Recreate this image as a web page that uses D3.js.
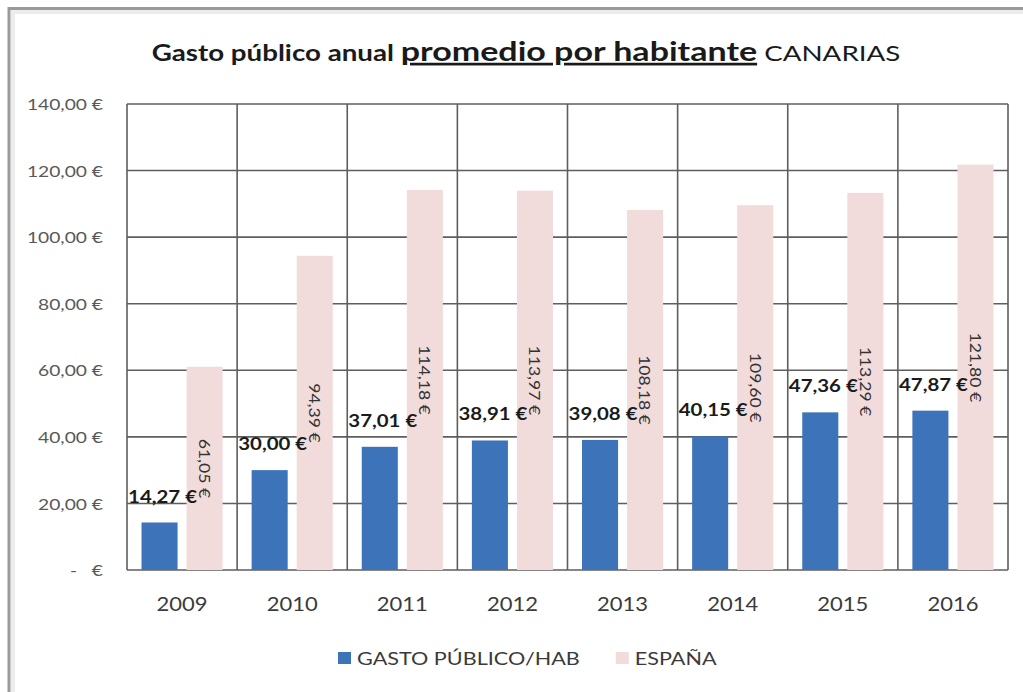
<!DOCTYPE html>
<html><head><meta charset="utf-8">
<script src="https://cdn.jsdelivr.net/npm/d3@7"></script>
<style>
html,body{margin:0;padding:0;background:#fff;}
svg{display:block;}
text{font-family:Lato, "Open Sans", sans-serif;}
</style></head>
<body><svg id="chart" width="1023" height="692"></svg>
<script>
// ---- data ----
const years = ["2009","2010","2011","2012","2013","2014","2015","2016"];
const gastoHab = [14.27,30.00,37.01,38.91,39.08,40.15,47.36,47.87];
const espana = [61.05,94.39,114.18,113.97,108.18,109.60,113.29,121.80];
const yTicks = [0,20,40,60,80,100,120,140];
const seriesNames = ["GASTO PÚBLICO/HAB","ESPAÑA"];
const titleParts = ["Gasto público anual ","promedio por habitante"," CANARIAS"];

// ---- layout ----
const W=1023,H=692;
const plot={left:127,right:1008,top:104,bottom:570};
const blue="#3c73b9", pink="#f2dcdb", grid="#5e5e5e", textCol="#3a3a3a";
const SX=1.2; // horizontal text stretch seen in the reference

const svg=d3.select("#chart");
svg.append("rect").attr("width",W).attr("height",H).attr("fill","#fff");

// outer frame (screenshot border)
svg.append("path").attr("d",`M13,${H+5}V12H${W+5}`).attr("fill","none").attr("stroke","#ececec").attr("stroke-width",4);
svg.append("path").attr("d",`M9,${H+5}V8.5H${W+5}`).attr("fill","none").attr("stroke","#9a9a9a").attr("stroke-width",3);

const loc=d3.formatLocale({decimal:",",thousands:".",grouping:[3],currency:[""," €"]});
const fmt=v=>loc.format(",.2f")(v)+" €";

const x=d3.scaleBand().domain(years).range([plot.left,plot.right]).paddingInner(0).paddingOuter(0);
const xs=d3.scaleBand().domain([0,1]).range([0,x.bandwidth()]).paddingInner(0.2).paddingOuter(0.322);
const y=d3.scaleLinear().domain([0,140]).range([plot.bottom,plot.top]);

// gridlines
const g=svg.append("g");
g.selectAll("line.h").data(yTicks).join("line")
  .attr("x1",plot.left).attr("x2",plot.right)
  .attr("y1",d=>y(d)).attr("y2",d=>y(d))
  .attr("stroke",grid).attr("stroke-width",1.6);
const vlines=years.map(d=>x(d)).concat([plot.right]);
g.selectAll("line.v").data(vlines).join("line")
  .attr("x1",d=>d).attr("x2",d=>d)
  .attr("y1",plot.top).attr("y2",plot.bottom)
  .attr("stroke",grid).attr("stroke-width",1.6);

// bars
const data=years.map((yr,i)=>({yr,a:gastoHab[i],b:espana[i]}));
svg.selectAll("rect.b1").data(data).join("rect")
  .attr("x",d=>x(d.yr)+xs(0)).attr("width",xs.bandwidth())
  .attr("y",d=>y(d.a)).attr("height",d=>y(0)-y(d.a))
  .attr("fill",blue);
svg.selectAll("rect.b2").data(data).join("rect")
  .attr("x",d=>x(d.yr)+xs(1)).attr("width",xs.bandwidth())
  .attr("y",d=>y(d.b)).attr("height",d=>y(0)-y(d.b))
  .attr("fill",pink);

// y axis labels
const yAxis=d3.axisLeft(y).tickValues(yTicks).tickSize(0).tickPadding(0)
  .tickFormat(d=>d===0?"-   €":fmt(d));
const ya=svg.append("g").attr("transform",`translate(${103},0)`).call(yAxis);
ya.select(".domain").remove();
ya.selectAll("text").attr("font-size",16).attr("fill","#595959").attr("font-family","Lato")
  .attr("x",0).attr("dy","0.35em").attr("transform",`scale(${SX},1)`).style("white-space","pre");

// x axis labels
const xAxis=d3.axisBottom(x).tickSize(0).tickPadding(0);
const xa=svg.append("g").attr("transform",`translate(0,${plot.bottom})`).call(xAxis);
xa.select(".domain").remove();
xa.selectAll("text").attr("font-size",20).attr("fill",textCol).attr("font-family","Lato")
  .attr("dy",0).attr("y",0).attr("transform",`translate(0,41) scale(1.1,1)`);

// value labels
svg.selectAll("text.l1").data(data).join("text")
  .attr("transform",d=>`translate(${x(d.yr)+xs(0)+xs.bandwidth()/2+3},${y(d.a)-20}) scale(${SX},1)`)
  .attr("text-anchor","middle").attr("font-size",17).attr("font-weight","bold").attr("fill","#1a1a1a")
  .text(d=>fmt(d.a));
svg.selectAll("text.l2").data(data).join("text")
  .attr("transform",d=>`translate(${x(d.yr)+xs(1)+xs.bandwidth()/2},${y(d.b/2)}) rotate(90) scale(1.1,1)`)
  .attr("text-anchor","middle").attr("dy","0.35em").attr("font-size",16).attr("fill","#333")
  .text(d=>fmt(d.b));

// title
const t=svg.append("text").attr("transform",`translate(526,61) scale(1.26,1)`).attr("text-anchor","middle").attr("fill","#1a1a1a");
t.append("tspan").attr("font-size",22).attr("font-weight","bold").text(titleParts[0]);
t.append("tspan").attr("font-size",27).attr("font-weight","bold").style("text-decoration","underline").text(titleParts[1]);
t.append("tspan").attr("font-size",22).text(titleParts[2]);

// legend
const lg=svg.append("g");
let lx=338;
seriesNames.forEach((n,i)=>{
  lg.append("rect").attr("x",lx).attr("y",652).attr("width",13).attr("height",12).attr("fill",i?pink:blue);
  const tx=lg.append("text").attr("transform",`translate(${lx+19},665) scale(${SX},1)`).attr("font-size",18).attr("fill",textCol).text(n);
  lx+=19+tx.node().getComputedTextLength()*SX+36;
});
</script></body></html>
